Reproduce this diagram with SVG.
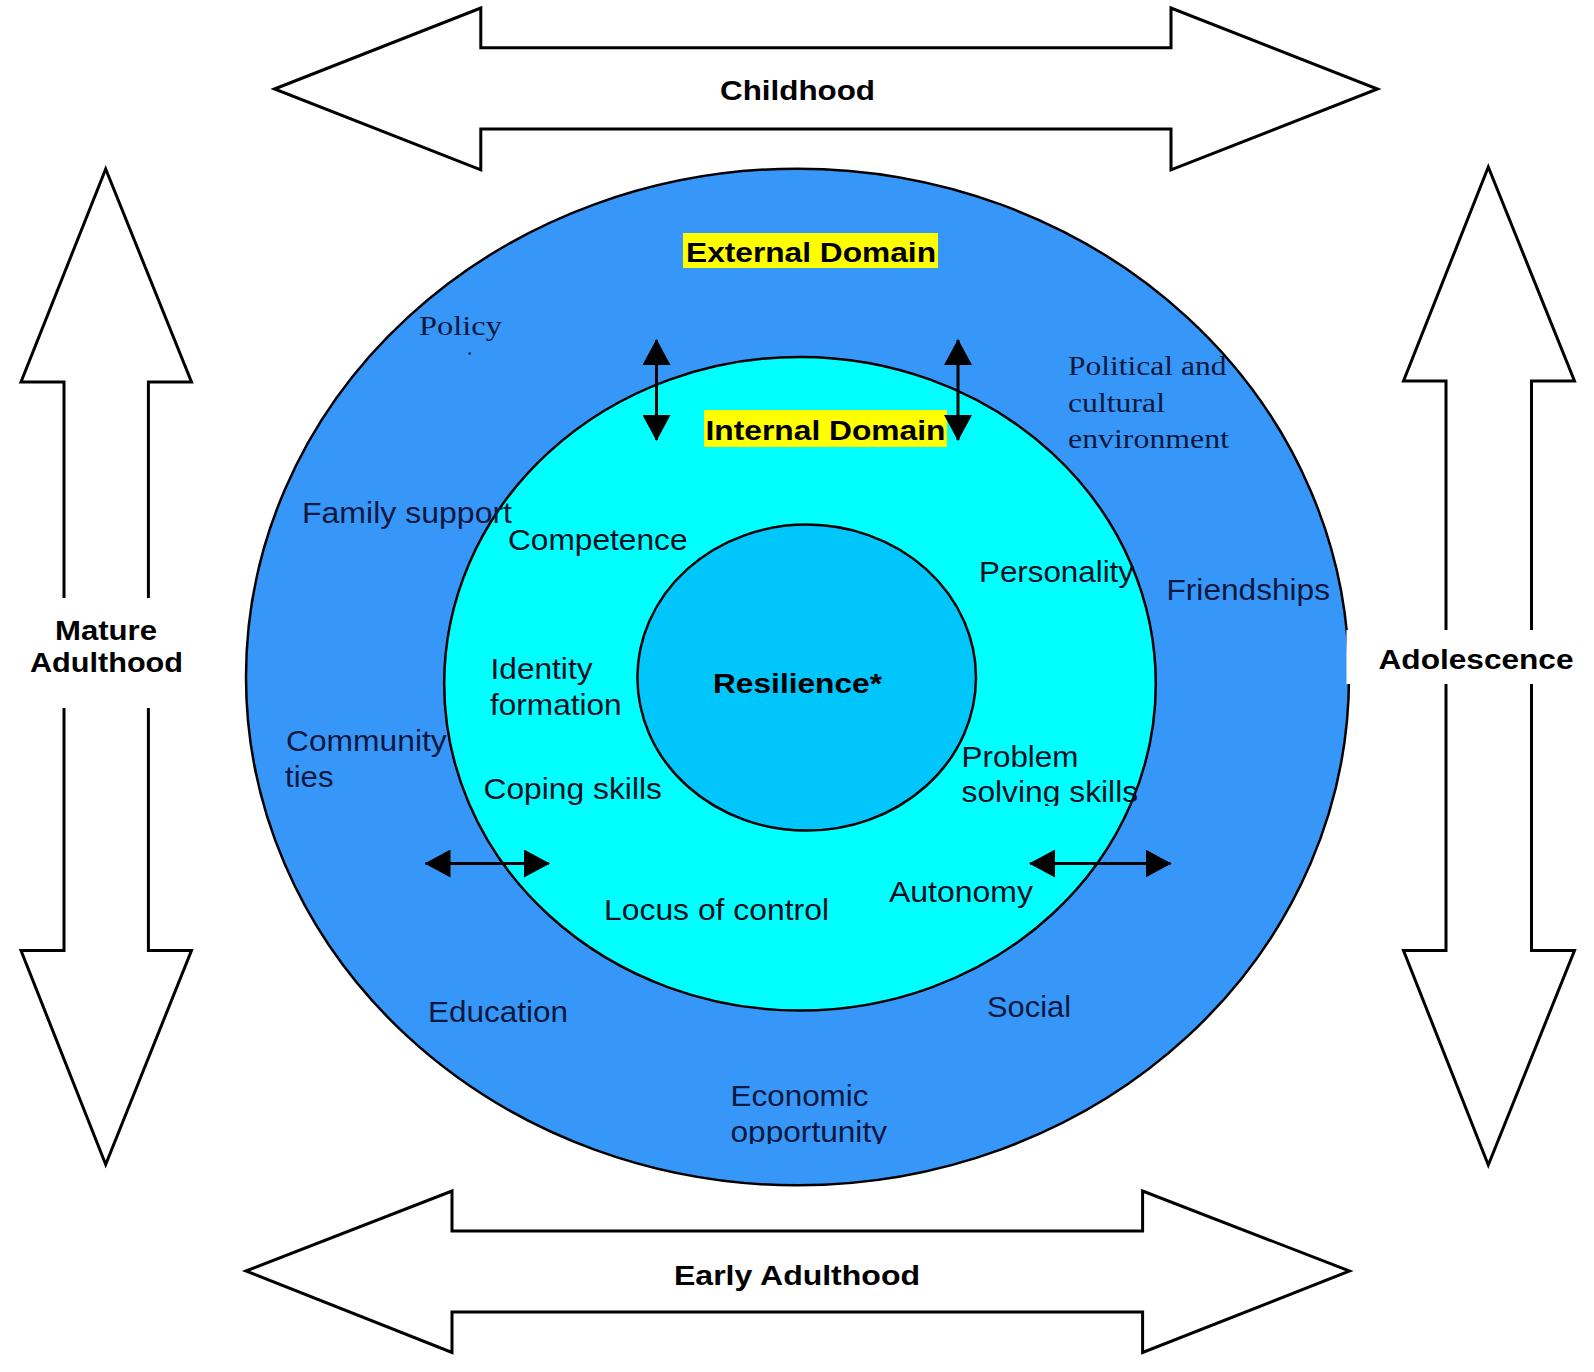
<svg xmlns="http://www.w3.org/2000/svg" width="1594" height="1372" viewBox="0 0 1594 1372">
<style>
.big{fill:#ffffff;stroke:#000;stroke-width:3;stroke-linejoin:miter}
.ring{stroke:#000;stroke-width:2.5}
.b{font-family:"Liberation Sans",Arial,sans-serif;font-weight:bold;font-size:28px;fill:#000}
.r{font-family:"Liberation Sans",Arial,sans-serif;font-size:29px;fill:#0a0f22}
.rb{font-family:"Liberation Sans",Arial,sans-serif;font-size:29px;fill:#0c1840}
.s{font-family:"Liberation Serif","Times New Roman",serif;font-size:27px;fill:#0c1840}
.conn{stroke:#000;stroke-width:3;fill:none;marker-start:url(#ah);marker-end:url(#ah)}
</style>
<defs>
<marker id="ah" viewBox="0 0 26 28" refX="25" refY="14" markerWidth="26" markerHeight="28" markerUnits="userSpaceOnUse" orient="auto-start-reverse"><path d="M0,0 L26,14 L0,28 z" fill="#000"/></marker>
<clipPath id="clipEcon"><rect x="700" y="1060" width="220" height="84"/></clipPath>
<clipPath id="clipSolve"><rect x="940" y="730" width="220" height="76"/></clipPath>
</defs>
<rect width="1594" height="1372" fill="#ffffff"/>

<g id="childhood">
<polygon class="big" points="274.5,89 480.8,8 480.8,47.8 1171,47.8 1171,8 1377.5,89 1171,169.8 1171,129.1 480.8,129.1 480.8,169.8"/>
<text class="b" x="797.5" y="100" text-anchor="middle" textLength="155" lengthAdjust="spacingAndGlyphs">Childhood</text>
</g>

<g id="early-adulthood">
<polygon class="big" points="246,1271 452,1191 452,1231 1142.6,1231 1142.6,1191 1349.5,1271 1142.6,1352.5 1142.6,1312 452,1312 452,1352.5"/>
<text class="b" x="797" y="1285" text-anchor="middle" textLength="246" lengthAdjust="spacingAndGlyphs">Early Adulthood</text>
</g>

<g id="mature-adulthood">
<polygon class="big" points="105.7,169 191.5,382 148.4,382 148.4,950.5 191.5,950.5 105.7,1164.5 21,950.5 64,950.5 64,382 21,382"/>
<rect x="22" y="598" width="168" height="110" fill="#ffffff"/>
<text class="b" x="106" y="640" text-anchor="middle" textLength="102" lengthAdjust="spacingAndGlyphs">Mature</text>
<text class="b" x="106.5" y="672" text-anchor="middle" textLength="153" lengthAdjust="spacingAndGlyphs">Adulthood</text>
</g>

<g id="external-domain">
<ellipse class="ring" cx="797.5" cy="677" rx="551.5" ry="508.3" fill="#3797f8"/>
</g>
<g id="internal-domain">
<ellipse class="ring" cx="800" cy="683.7" rx="355.8" ry="326.8" fill="#00ffff"/>
</g>
<g id="resilience">
<ellipse class="ring" cx="806.7" cy="677.6" rx="169.3" ry="153" fill="#00c6fc"/>
<text class="b" x="797.5" y="692.5" text-anchor="middle" textLength="169" lengthAdjust="spacingAndGlyphs">Resilience*</text>
</g>

<g id="adolescence">
<polygon class="big" points="1488.3,167 1574.5,381 1531.5,381 1531.5,950.5 1574.5,950.5 1488.3,1165 1403.5,950.5 1446,950.5 1446,381 1403.5,381"/>
<rect x="1346.5" y="630" width="247.5" height="54" fill="#ffffff"/>
<text class="b" x="1476" y="669" text-anchor="middle" textLength="195" lengthAdjust="spacingAndGlyphs">Adolescence</text>
</g>

<g id="domain-titles">
<rect x="683" y="233" width="255" height="35" fill="#ffff00"/>
<text class="b" x="811" y="262" text-anchor="middle" textLength="250" lengthAdjust="spacingAndGlyphs">External Domain</text>
<rect x="704" y="410" width="243" height="37" fill="#ffff00"/>
<text class="b" x="825.5" y="440" text-anchor="middle" textLength="240" lengthAdjust="spacingAndGlyphs">Internal Domain</text>
</g>

<g id="external-labels">
<text class="s" x="419" y="335" textLength="83" lengthAdjust="spacingAndGlyphs">Policy</text>
<circle cx="469.7" cy="353.5" r="1.3" fill="#1a2650"/>
<text class="s" x="1068" y="375" textLength="158.5" lengthAdjust="spacingAndGlyphs">Political and</text>
<text class="s" x="1068" y="411.5" textLength="97" lengthAdjust="spacingAndGlyphs">cultural</text>
<text class="s" x="1068" y="448" textLength="161" lengthAdjust="spacingAndGlyphs">environment</text>
<text class="rb" x="302" y="522.5" textLength="210" lengthAdjust="spacingAndGlyphs">Family support</text>
<text class="rb" x="1166.5" y="599.5" textLength="163.5" lengthAdjust="spacingAndGlyphs">Friendships</text>
<text class="rb" x="286" y="750.5" textLength="160.7" lengthAdjust="spacingAndGlyphs">Community</text>
<text class="rb" x="285" y="786.5" textLength="48.5" lengthAdjust="spacingAndGlyphs">ties</text>
<text class="rb" x="428" y="1021.5" textLength="140" lengthAdjust="spacingAndGlyphs">Education</text>
<text class="rb" x="987" y="1016.5" textLength="84" lengthAdjust="spacingAndGlyphs">Social</text>
<g clip-path="url(#clipEcon)">
<text class="rb" x="730.5" y="1106" textLength="138" lengthAdjust="spacingAndGlyphs">Economic</text>
<text class="rb" x="730.5" y="1142" textLength="156.5" lengthAdjust="spacingAndGlyphs">opportunity</text>
</g>
</g>

<g id="internal-labels">
<text class="r" x="508" y="550" textLength="179.5" lengthAdjust="spacingAndGlyphs">Competence</text>
<text class="r" x="979" y="581.5" textLength="155" lengthAdjust="spacingAndGlyphs">Personality</text>
<text class="r" x="490.5" y="679" textLength="102" lengthAdjust="spacingAndGlyphs">Identity</text>
<text class="r" x="490" y="715" textLength="131.7" lengthAdjust="spacingAndGlyphs">formation</text>
<text class="r" x="483.5" y="798.5" textLength="178.4" lengthAdjust="spacingAndGlyphs">Coping skills</text>
<g clip-path="url(#clipSolve)">
<text class="r" x="961.5" y="766.5" textLength="117" lengthAdjust="spacingAndGlyphs">Problem</text>
<text class="r" x="961.5" y="801.5" textLength="176.6" lengthAdjust="spacingAndGlyphs">solving skills</text>
</g>
<text class="r" x="604" y="920" textLength="225" lengthAdjust="spacingAndGlyphs">Locus of control</text>
<text class="r" x="889" y="901.5" textLength="144" lengthAdjust="spacingAndGlyphs">Autonomy</text>
</g>

<g id="connectors">
<path class="conn" d="M656.5,340 L656.5,440"/>
<path class="conn" d="M958,340 L958,440"/>
<path class="conn" d="M425.5,863.5 L549,863.5"/>
<path class="conn" d="M1030,863.5 L1170.5,863.5"/>
</g>
</svg>
